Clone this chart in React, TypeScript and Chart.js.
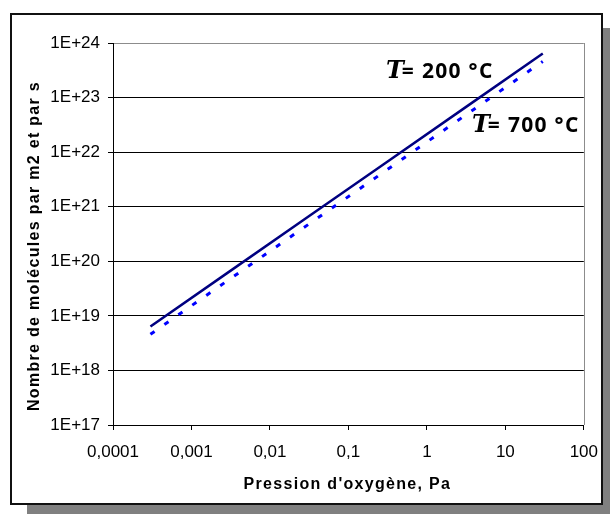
import { useEffect, useRef } from "react";
import { Chart, registerables } from "chart.js";

Chart.register(...registerables);

// ---- data ----
const pressurePa = [0.0003, 0.003, 0.03, 0.3, 3, 30];
const flux200C = [6.4e18, 6.4e19, 6.4e20, 6.4e21, 6.4e22, 6.4e23];
const flux700C = [4.6e18, 4.6e19, 4.6e20, 4.6e21, 4.6e22, 4.6e23];

const xTickValues = [1e-4, 1e-3, 1e-2, 1e-1, 1, 10, 100];
const xTickLabels = ["0,0001", "0,001", "0,01", "0,1", "1", "10", "100"];
const yTickValues = [1e17, 1e18, 1e19, 1e20, 1e21, 1e22, 1e23, 1e24];
const yTickLabels = ["1E+17", "1E+18", "1E+19", "1E+20", "1E+21", "1E+22", "1E+23", "1E+24"];

const seriesNames = ["200 °C", "700 °C"];
const xTitle = "Pression d'oxygène, Pa";
const yTitle = "Nombre de molécules par m2 et par s";

const W = 610;
const H = 514;

const decorPlugin = {
  id: "decor",
  beforeDraw(chart: any) {
    const ctx = chart.ctx;
    ctx.save();
    ctx.fillStyle = "#ffffff";
    ctx.fillRect(0, 0, W, H);
    // shadow
    ctx.fillStyle = "#808080";
    ctx.fillRect(603, 28, 7, H - 28);
    ctx.fillRect(27, 505, W - 27, 9);
    // frame
    ctx.strokeStyle = "#111111";
    ctx.lineWidth = 2;
    ctx.strokeRect(11, 14, 591, 490);
    ctx.restore();
  },
  afterDraw(chart: any) {
    const ctx = chart.ctx;
    const a = chart.chartArea;
    ctx.save();
    // plot-area border (gray) right side
    ctx.strokeStyle = "#8c8c8c";
    ctx.lineWidth = 1;
    ctx.beginPath();
    ctx.moveTo(Math.round(a.right) + 0.5, a.top);
    ctx.lineTo(Math.round(a.right) + 0.5, a.bottom);
    ctx.stroke();

    // axis titles
    ctx.fillStyle = "#000000";
    ctx.font = "bold 16px 'Liberation Sans', Arial, sans-serif";
    (ctx as any).letterSpacing = "1.3px";
    ctx.textAlign = "center";
    ctx.textBaseline = "alphabetic";
    ctx.fillText(xTitle, (a.left + a.right) / 2 - 1, 489);
    ctx.save();
    ctx.translate(39, 246);
    ctx.rotate(-Math.PI / 2);
    ctx.fillText(yTitle, 0, 0);
    ctx.restore();

    // series annotations
    const drawLabel = (x: number, y: number, txt: string) => {
      ctx.textAlign = "left";
      (ctx as any).letterSpacing = "0px";
      ctx.font = "italic bold 24px 'DejaVu Serif', serif";
      ctx.fillText("T", x, y);
      const tw = ctx.measureText("T").width;
      ctx.font = "bold 21px 'Open Sans', sans-serif";
      (ctx as any).letterSpacing = "1.3px";
      ctx.fillText("= " + txt, x + tw - 2, y);
    };
    drawLabel(386, 78, seriesNames[0]);
    drawLabel(472, 132, seriesNames[1]);
    ctx.restore();
  },
};

export default function App() {
  const ref = useRef<HTMLCanvasElement | null>(null);
  useEffect(() => {
    if (!ref.current) return;
    const chart = new Chart(ref.current, {
      type: "scatter",
      data: {
        datasets: [
          {
            label: seriesNames[0],
            data: pressurePa.map((p, i) => ({ x: p, y: flux200C[i] })),
            showLine: true,
            borderColor: "#000080",
            borderWidth: 2.5,
            pointRadius: 0,
          },
          {
            label: seriesNames[1],
            data: pressurePa.map((p, i) => ({ x: p, y: flux700C[i] })),
            showLine: true,
            borderColor: "#0000ff",
            borderWidth: 3,
            borderDash: [5, 12],
            borderCapStyle: "butt",
            pointRadius: 0,
          },
        ],
      },
      options: {
        responsive: false,
        animation: false,
        devicePixelRatio: 1,
        layout: { padding: { top: 43, right: 26, left: 0, bottom: 0 } },
        plugins: { legend: { display: false }, tooltip: { enabled: false } },
        scales: {
          x: {
            type: "logarithmic",
            min: 1e-4,
            max: 100,
            afterBuildTicks: (s: any) => {
              s.ticks = xTickValues.map((v) => ({ value: v }));
            },
            afterFit: (s: any) => {
              s.height = 89;
            },
            grid: {
              drawOnChartArea: false,
              drawTicks: true,
              tickLength: 5,
              tickColor: "#000000",
              color: "#000000",
            },
            border: { display: true, color: "#000000", width: 1 },
            ticks: {
              autoSkip: false,
              maxRotation: 0,
              padding: 12,
              color: "#000000",
              font: { family: "'Liberation Sans', Arial, sans-serif", size: 17 },
              callback: (_v: any, i: number) => xTickLabels[i],
            },
          },
          y: {
            type: "logarithmic",
            min: 1e17,
            max: 1e24,
            afterBuildTicks: (s: any) => {
              s.ticks = yTickValues.map((v) => ({ value: v }));
            },
            afterFit: (s: any) => {
              s.width = 113;
            },
            grid: {
              drawTicks: true,
              tickLength: 5,
              tickColor: "#000000",
              color: (c: any) => (c.index === yTickValues.length - 1 ? "#8c8c8c" : "#000000"),
              lineWidth: 1,
            },
            border: { display: true, color: "#000000", width: 1 },
            ticks: {
              autoSkip: false,
              padding: 8,
              color: "#000000",
              font: { family: "'Liberation Sans', Arial, sans-serif", size: 17 },
              callback: (_v: any, i: number) => yTickLabels[i],
            },
          },
        },
      },
      plugins: [decorPlugin],
    });
    return () => chart.destroy();
  }, []);
  return (
    <div style={{ position: "fixed", left: 0, top: 0, width: W, height: H }}>
      <canvas ref={ref} width={W} height={H} style={{ display: "block", width: W, height: H }} />
    </div>
  );
}
